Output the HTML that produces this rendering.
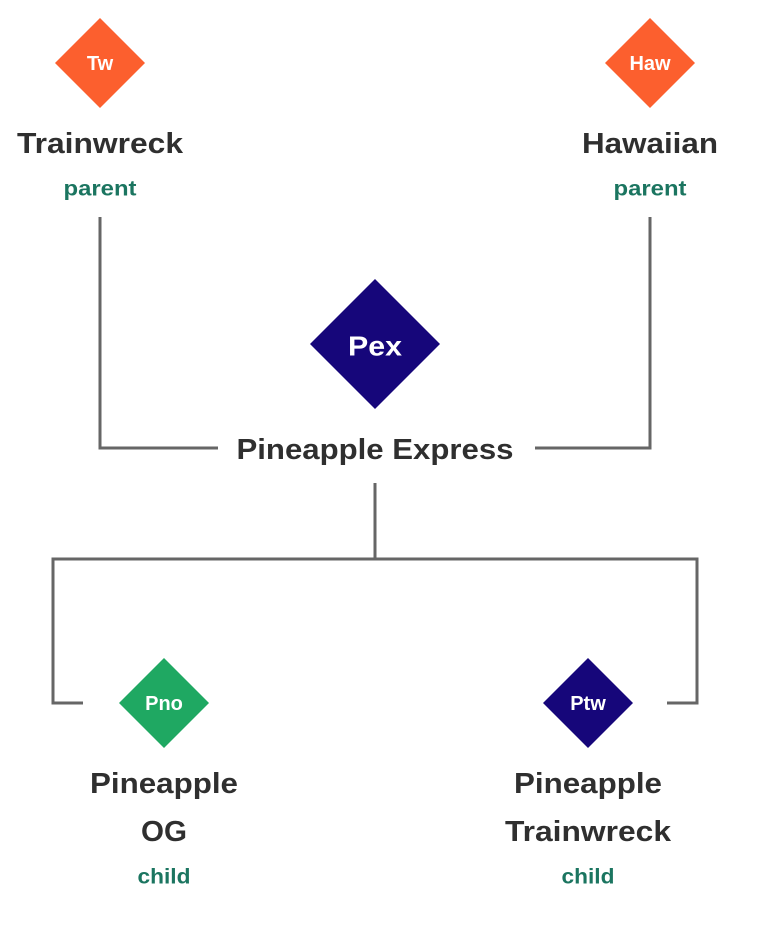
<!DOCTYPE html>
<html><head><style>
body{margin:0;width:778px;height:928px;background:#fff;overflow:hidden}
svg{display:block}
text{font-family:"Liberation Sans",sans-serif;font-weight:bold;text-anchor:middle;dominant-baseline:central}
.t{font-size:29px;fill:#2f2f2f}
.s{font-size:21px;fill:#1b7560}
.d{font-size:20px;fill:#fff}
</style></head><body>
<svg width="778" height="928" viewBox="0 0 778 928">
<g fill="none" stroke="#666" stroke-width="3">
<polyline points="100,217 100,448 218,448"/>
<polyline points="650,217 650,448 535,448"/>
<line x1="375" y1="483" x2="375" y2="559"/>
<polyline points="83,703 53,703 53,559 697,559 697,703 667,703"/>
</g>
<polygon points="100,18 145,63 100,108 55,63" fill="#fc5f2e"/>
<text class="d" x="100" y="64">Tw</text>
<polygon points="650,18 695,63 650,108 605,63" fill="#fc5f2e"/>
<text class="d" x="650" y="64">Haw</text>
<polygon points="375,279 440,344 375,409 310,344" fill="#16067a"/>
<text class="d" x="375" y="346" style="font-size:28px" textLength="54" lengthAdjust="spacingAndGlyphs">Pex</text>
<polygon points="164,658 209,703 164,748 119,703" fill="#1fa862"/>
<text class="d" x="164" y="704">Pno</text>
<polygon points="588,658 633,703 588,748 543,703" fill="#16067a"/>
<text class="d" x="588" y="704">Ptw</text>
<text class="t" x="100" y="144" textLength="166" lengthAdjust="spacingAndGlyphs">Trainwreck</text>
<text class="s" x="100" y="189" textLength="73" lengthAdjust="spacingAndGlyphs">parent</text>
<text class="t" x="650" y="144" textLength="136" lengthAdjust="spacingAndGlyphs">Hawaiian</text>
<text class="s" x="650" y="189" textLength="73" lengthAdjust="spacingAndGlyphs">parent</text>
<text class="t" x="375" y="450" textLength="277" lengthAdjust="spacingAndGlyphs">Pineapple Express</text>
<text class="t" x="164" y="784" textLength="148" lengthAdjust="spacingAndGlyphs">Pineapple</text>
<text class="t" x="164" y="832" textLength="46" lengthAdjust="spacingAndGlyphs">OG</text>
<text class="s" x="164" y="877" textLength="53" lengthAdjust="spacingAndGlyphs">child</text>
<text class="t" x="588" y="784" textLength="148" lengthAdjust="spacingAndGlyphs">Pineapple</text>
<text class="t" x="588" y="832" textLength="166" lengthAdjust="spacingAndGlyphs">Trainwreck</text>
<text class="s" x="588" y="877" textLength="53" lengthAdjust="spacingAndGlyphs">child</text>
</svg>
</body></html>
